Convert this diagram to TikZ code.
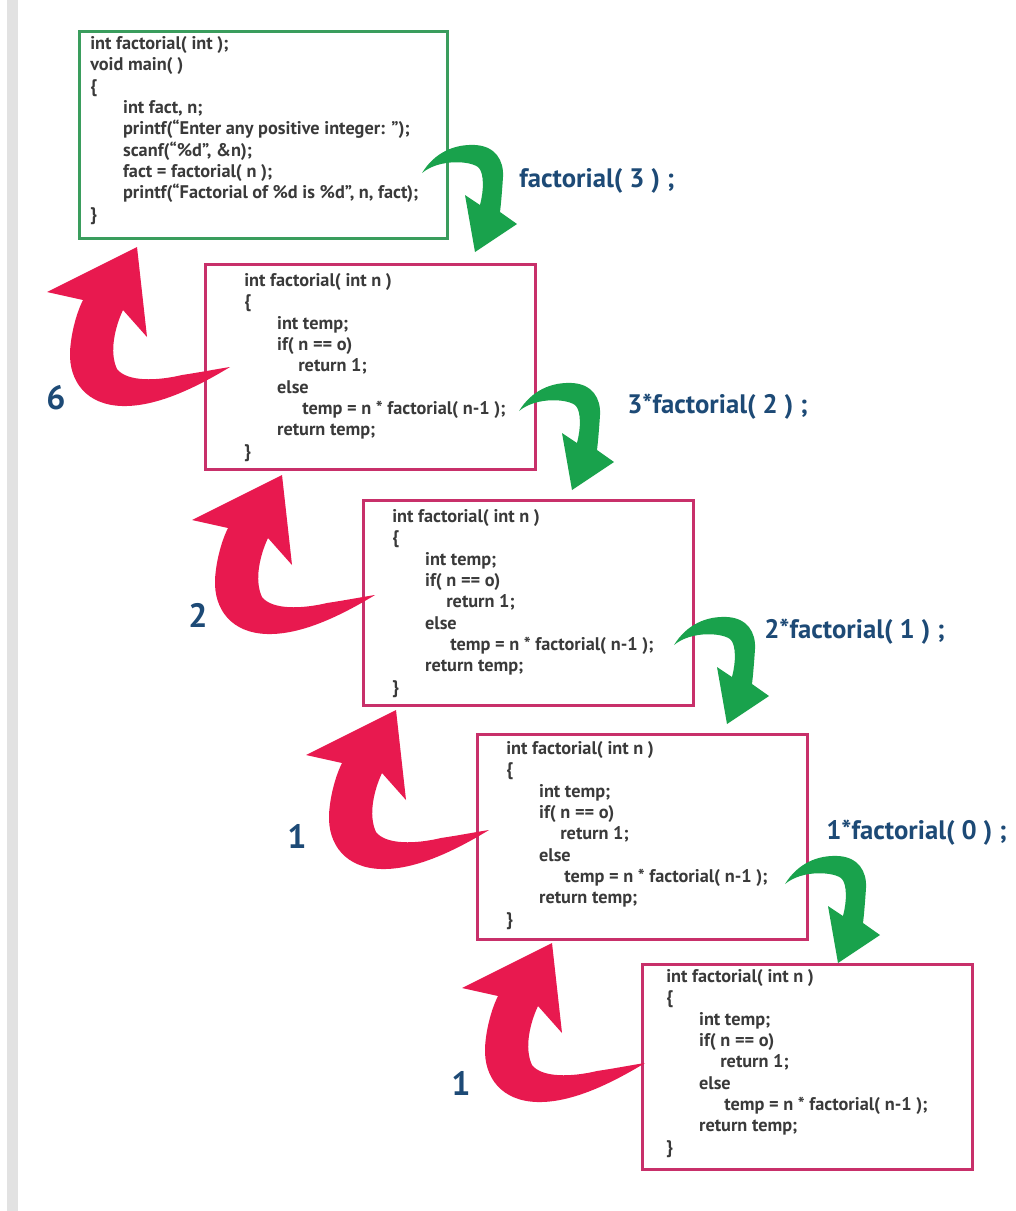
\documentclass[tikz,border=0pt]{standalone}
\usepackage{fontspec}
\setmainfont{PT Sans}
\definecolor{barGray}{HTML}{E2E2E2}
\definecolor{mainGreen}{HTML}{3A9D5D}
\definecolor{boxPink}{HTML}{C8306A}
\definecolor{callGreen}{HTML}{19A24C}
\definecolor{retRed}{HTML}{E8194F}
\definecolor{labelBlue}{HTML}{1D4A76}
\definecolor{codeGray}{HTML}{3A3A3A}
\newcommand{\ind}[1]{\hspace*{#1}}
\newcommand{\mainbody}{%
int factorial( int );\\
void main( )\\
\{\\
\ind{0.82cm}int fact, n;\\
\ind{0.82cm}printf(“Enter any positive integer: ”);\\
\ind{0.82cm}scanf(“\%d”, \&n);\\
\ind{0.82cm}fact = factorial( n );\\
\ind{0.82cm}printf(“Factorial of \%d is \%d”, n, fact);\\
\}}
\newcommand{\factbody}{%
int factorial( int n )\\
\{\\
\ind{0.82cm}int temp;\\
\ind{0.82cm}if( n == o)\\
\ind{1.35cm}return 1;\\
\ind{0.82cm}else\\
\ind{1.45cm}temp = n * factorial( n-1 );\\
\ind{0.82cm}return temp;\\
\}}
\begin{document}
\begin{tikzpicture}[x=0.025cm,y=-0.025cm,
  framebox/.style={draw=boxPink, line width=1.8pt, fill=white, anchor=north west,
    inner sep=0pt, minimum width=8.25cm, minimum height=5.125cm},
  codetext/.style={anchor=north west, inner sep=0pt, align=left, text=codeGray,
    font=\fontsize{13pt}{15.2pt}\selectfont\bfseries},
  calllabel/.style={anchor=west, inner sep=0pt, text=labelBlue,
    font=\fontsize{19pt}{22pt}\selectfont\bfseries},
  retvalue/.style={anchor=center, inner sep=0pt, text=labelBlue,
    font=\fontsize{24pt}{28pt}\selectfont\bfseries},
  greenarrow/.pic={
    \fill[callGreen] (-53,-79) .. controls (-40,-100) and (-20,-108) .. (0,-107)
      .. controls (20,-106) and (29,-92) .. (28,-75)
      .. controls (27,-60) and (26,-48) .. (25,-40) -- (42,-28) -- (0,0) -- (-10,-57) -- (5,-47)
      .. controls (9,-62) and (9,-78) .. (4,-84)
      .. controls (-2,-91) and (-35,-94) .. (-53,-79) -- cycle;},
  redarrow/.pic={
    \fill[retRed] (93,120) .. controls (60,140) and (20,160) .. (-15,159)
      .. controls (-50,158) and (-68,135) .. (-67,105)
      .. controls (-66,85) and (-60,65) .. (-54,53) -- (-90,45) -- (0,0) -- (10,90) -- (-14,63)
      .. controls (-22,80) and (-28,105) .. (-20,122)
      .. controls (-10,135) and (20,134) .. (45,128)
      .. controls (65,125) and (80,122) .. (93,120) -- cycle;}
]
% page and left margin bar
\useasboundingbox (0,0) rectangle (1016,1211);
\fill[white] (0,0) rectangle (1016,1211);
\fill[barGray] (7,0) rectangle (18,1211);

% the five stack frames
\node[framebox, draw=mainGreen, minimum width=9.2cm, minimum height=5.175cm] (b0) at (78,30) {};
\node[framebox] (b1) at (204,263) {};
\node[framebox] (b2) at (362,499) {};
\node[framebox] (b3) at (476,733) {};
\node[framebox] (b4) at (641,963) {};

\node[codetext] (t0) at (90,36) {\mainbody};
\node[codetext] (t1) at (244,273) {\factbody};
\node[codetext] (t2) at (392,509) {\factbody};
\node[codetext] (t3) at (506,741) {\factbody};
\node[codetext] (t4) at (666,969) {\factbody};

% calls going down
\coordinate (g1) at (475,252);
\coordinate (g2) at (572,490);
\coordinate (g3) at (727,724);
\coordinate (g4) at (838,963);
\pic at (g1) {greenarrow};
\pic at (g2) {greenarrow};
\pic at (g3) {greenarrow};
\pic at (g4) {greenarrow};

\node[calllabel] (c1) at (519,181) {factorial( 3 ) ;};
\node[calllabel] (c2) at (627,407) {3*factorial( 2 ) ;};
\node[calllabel] (c3) at (764,632) {2*factorial( 1 ) ;};
\node[calllabel] (c4) at (826,833) {1*factorial( 0 ) ;};

% returns going up
\coordinate (r1) at (137,247);
\coordinate (r2) at (282,475);
\coordinate (r3) at (396,710);
\coordinate (r4) at (552,943);
\pic at (r1) {redarrow};
\pic at (r2) {redarrow};
\pic at (r3) {redarrow};
\pic at (r4) {redarrow};

\node[retvalue] (v1) at (56,398) {6};
\node[retvalue] (v2) at (198,615) {2};
\node[retvalue] (v3) at (297,836) {1};
\node[retvalue] (v4) at (461,1083) {1};
\end{tikzpicture}
\end{document}
